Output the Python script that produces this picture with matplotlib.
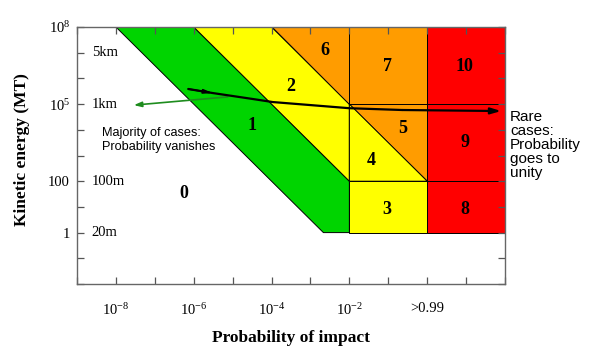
import matplotlib
matplotlib.use("Agg")
import matplotlib.pyplot as plt
import numpy as np

# ---- data (log10 units) ----
x_range = [-9, 2]          # log10 probability
y_range = [-2, 8]          # log10 energy (MT)
x_ticks = list(range(-9, 3))
y_ticks = list(range(-2, 9))
x_tick_labels = {-8: r"$10^{-8}$", -6: r"$10^{-6}$", -4: r"$10^{-4}$", -2: r"$10^{-2}$", 0: ">0.99"}
y_tick_labels = {8: r"$10^{8}$", 5: r"$10^{5}$", 2: "100", 0: "1"}
size_labels = {7: "5km", 5: "1km", 2: "100m", 0: "20m"}

# Torino-scale regions: (name, colour, log10 p vertices, log10 E vertices)
green, yellow, orange, red = "#00d400", "#ffff00", "#ff9c00", "#ff0000"
region_names = ["1", "2", "6", "7", "5", "4", "3", "10", "9", "8"]
region_colors = [green, yellow, orange, orange, orange, yellow, yellow, red, red, red]
region_px = [
    [-8, -6, -2, -2, -8 + 8 / 1.5],
    [-6, -4, -2, -2],
    [-4, -2, -2],
    [-2, 0, 0, -2],
    [-2, 0, 0],
    [-2, 0, -2],
    [-2, 0, 0, -2],
    [0, 2, 2, 0],
    [0, 2, 2, 0],
    [0, 2, 2, 0],
]
region_py = [
    [8, 8, 2, 0, 0],
    [8, 8, 5, 2],
    [8, 8, 5],
    [5, 5, 8, 8],
    [5, 5, 2],
    [5, 2, 2],
    [0, 0, 2, 2],
    [5, 5, 8, 8],
    [2, 2, 5, 5],
    [0, 0, 2, 2],
]
# label positions
label_names = ["0", "1", "2", "6", "7", "10", "5", "9", "4", "3", "8"]
label_px = [-6.26, -4.51, -3.51, -2.62, -1.03, 0.97, -0.62, 0.97, -1.44, -1.05, 0.97]
label_py = [1.54, 4.15, 5.70, 7.10, 6.48, 6.45, 4.07, 3.49, 2.82, 0.88, 0.88]

# black curve (log10 units)
curve_px = [-6.15, -5.51, -4.49, -3.97, -2.0, -0.64, 1.90]
curve_py = [5.59, 5.43, 5.20, 5.08, 4.84, 4.77, 4.73]
# green arrow
green_arrow_start = (-5.13, 5.28)
green_arrow_end = (-7.54, 4.96)

plt.rcParams["font.family"] = ["Liberation Serif", "DejaVu Serif"]
plt.rcParams["mathtext.fontset"] = "custom"
plt.rcParams["mathtext.rm"] = "Liberation Serif"
plt.rcParams["mathtext.it"] = "Liberation Serif:italic"
plt.rcParams["mathtext.bf"] = "Liberation Serif:bold"

fig = plt.figure(figsize=(5.97, 3.48), dpi=100)
ax = fig.add_axes([77 / 597, 1 - 284 / 348, (505 - 77) / 597, (284 - 27) / 348])
ax.set_xscale("log")
ax.set_yscale("log")
ax.set_xlim(10.0 ** x_range[0], 10.0 ** x_range[1])
ax.set_ylim(10.0 ** y_range[0], 10.0 ** y_range[1])

for name, col, px, py in zip(region_names, region_colors, region_px, region_py):
    ax.fill(10.0 ** np.array(px), 10.0 ** np.array(py), facecolor=col,
            edgecolor="black", linewidth=0.7, zorder=1)

for name, px, py in zip(label_names, label_px, label_py):
    ax.text(10.0 ** px, 10.0 ** py, name, ha="center", va="center",
            fontsize=13, fontweight="bold", zorder=5)

# size labels inside the axes
for yy, s in size_labels.items():
    ax.text(10.0 ** -8.62, 10.0 ** yy, s, ha="left", va="center", fontsize=10.5, zorder=5)

# ticks
ax.set_xticks(10.0 ** np.array(x_ticks, dtype=float))
ax.set_xticklabels([x_tick_labels.get(t, "") for t in x_ticks], fontsize=10.5)
ax.set_yticks(10.0 ** np.array(y_ticks, dtype=float))
ax.set_yticklabels([y_tick_labels.get(t, "") for t in y_ticks], fontsize=10.5)
ax.minorticks_off()
ax.tick_params(axis="both", which="major", direction="in", length=5, width=0.9,
               colors="#555555", labelcolor="black", top=True, right=True)
ax.tick_params(axis="x", pad=13)
ax.tick_params(axis="y", pad=5)
for sp in ax.spines.values():
    sp.set_color("#666666")
    sp.set_linewidth(1.0)
    sp.set_zorder(6)

# black curve with arrow
cx = 10.0 ** np.array(curve_px)
cy = 10.0 ** np.array(curve_py)
ax.plot(cx[:-1], cy[:-1], color="black", lw=1.6, zorder=7, solid_capstyle="butt")
ax.annotate("", xy=(cx[-1], cy[-1]), xytext=(cx[-2], cy[-2]),
            arrowprops=dict(arrowstyle="-|>,head_length=0.6,head_width=0.18",
                            color="black", lw=1.6, shrinkA=0, shrinkB=0), zorder=7)
ax.annotate("", xy=(cx[1], cy[1]), xytext=(cx[0], cy[0]),
            arrowprops=dict(arrowstyle="-|>,head_length=0.5,head_width=0.12",
                            color="black", lw=1.2, shrinkA=0, shrinkB=0), zorder=7)

# green arrow
ax.annotate("", xy=(10.0 ** green_arrow_end[0], 10.0 ** green_arrow_end[1]),
            xytext=(10.0 ** green_arrow_start[0], 10.0 ** green_arrow_start[1]),
            arrowprops=dict(arrowstyle="-|>,head_length=0.45,head_width=0.15",
                            color="#1e8c1e", lw=1.2, shrinkA=0, shrinkB=0), zorder=6)

ax.text(10.0 ** -8.36, 10.0 ** 3.60, "Majority of cases:\nProbability vanishes",
        family=["Liberation Sans", "DejaVu Sans"], fontsize=9.2, ha="left", va="center",
        linespacing=1.2, zorder=8)
fig.text(510 / 597, 1 - 145 / 348, "Rare\ncases:\nProbability\ngoes to\nunity",
         family=["Liberation Sans", "DejaVu Sans"], fontsize=11, ha="left", va="center",
         linespacing=1.02)

ax.set_xlabel("Probability of impact", fontsize=12.5, fontweight="bold", labelpad=9)
fig.text(22 / 597, 1 - 150 / 348, "Kinetic energy (MT)", rotation=90, ha="center",
         va="center", fontsize=12.5, fontweight="bold")

fig.savefig("out.png", dpi=100)
